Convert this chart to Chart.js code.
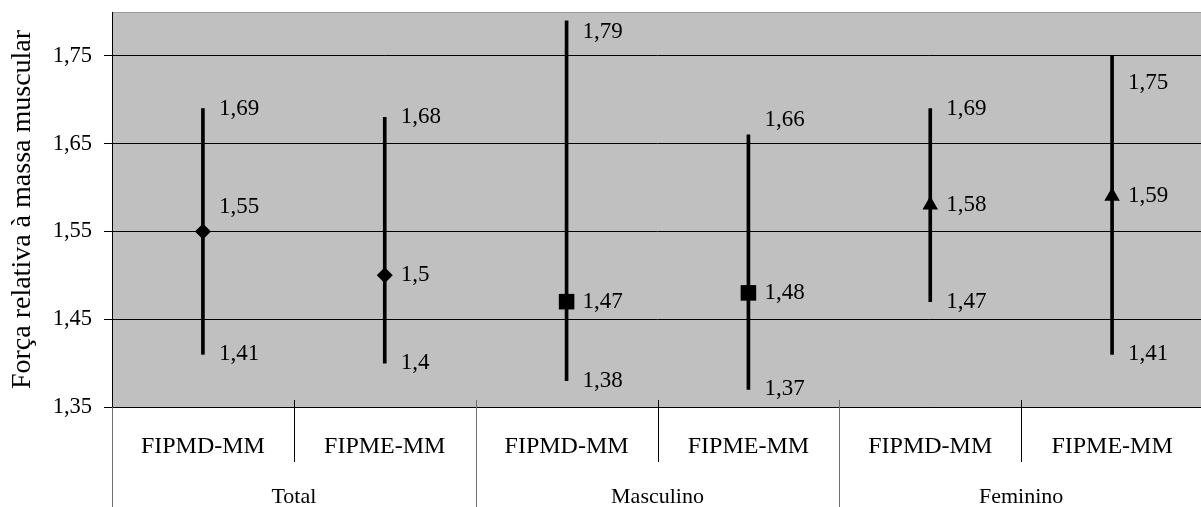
<!DOCTYPE html>
<html lang="pt">
  <head>
    <meta charset="utf-8">
    <script src="https://cdn.jsdelivr.net/npm/chart.js@4.4.1/dist/chart.umd.min.js"></script>
    <title>Força relativa</title>
    <style>
      html, body { margin: 0; padding: 0; overflow: hidden; background: #fff; }
      canvas { display: block; }
    </style>
  </head>
  <body>
    <canvas id="myChart" width="1201" height="507"></canvas>
    <script type="text/javascript">
      // data
      const categories = ['FIPMD-MM', 'FIPME-MM', 'FIPMD-MM', 'FIPME-MM', 'FIPMD-MM', 'FIPME-MM'];
      const groups = ['Total', 'Masculino', 'Feminino'];
      const means = [1.55, 1.50, 1.47, 1.48, 1.58, 1.59];
      const lows = [1.41, 1.40, 1.38, 1.37, 1.47, 1.41];
      const highs = [1.69, 1.68, 1.79, 1.66, 1.69, 1.75];
      const yTicks = [1.35, 1.45, 1.55, 1.65, 1.75];

      // marker per group (Total / Masculino / Feminino)
      const markerStyle = ['rectRot', 'rectRot', 'rect', 'rect', 'triangle', 'triangle'];
      const markerSize = { rectRot: 8, rect: 11, triangle: 9 };
      // small label shifts like in the original (px)
      const nudge = { mean: { 0: -24 }, high: { 2: 11, 3: -15, 5: 27 }, low: {} };

      const fmt = v => String(v).replace('.', ',');
      const FONT = '"Liberation Serif", "Times New Roman", serif';

      Chart.defaults.font.family = FONT;
      Chart.defaults.color = '#000';

      // the original plot is cut off on the right: let the x axis run past the edge
      const overflowRight = {
        id: 'overflowRight',
        afterLayout(chart) {
          const extra = 11;
          const x = chart.scales.x;
          chart.chartArea.right += extra;
          chart.chartArea.width += extra;
          x.right += extra;
          x.width += extra;
          x.configure();
        }
      };

      const plotBg = {
        id: 'plotBg',
        beforeDraw(chart) {
          const {ctx, chartArea: a} = chart;
          ctx.save();
          ctx.fillStyle = '#c0c0c0';
          ctx.fillRect(a.left, a.top, a.right - a.left, a.bottom - a.top);
          ctx.strokeStyle = '#9a9a9a';
          ctx.lineWidth = 1;
          ctx.beginPath();
          ctx.moveTo(a.left, a.top + 0.5);
          ctx.lineTo(a.right, a.top + 0.5);
          ctx.stroke();
          ctx.restore();
        }
      };

      const valueLabels = {
        id: 'valueLabels',
        afterDatasetsDraw(chart) {
          const {ctx, scales: {x, y}} = chart;
          ctx.save();
          ctx.font = '23px ' + FONT;
          ctx.fillStyle = '#000';
          ctx.textAlign = 'left';
          ctx.textBaseline = 'middle';
          categories.forEach((c, i) => {
            const px = x.getPixelForValue(i) + 16;
            [['high', highs], ['mean', means], ['low', lows]].forEach(([k, arr]) => {
              const dy = nudge[k][i] || 0;
              ctx.fillText(fmt(arr[i]), px, y.getPixelForValue(arr[i]) + dy);
            });
          });
          ctx.restore();
        }
      };

      const groupAxis = {
        id: 'groupAxis',
        afterDraw(chart) {
          const {ctx, scales: {x}, chartArea: a} = chart;
          const half = (x.getPixelForValue(1) - x.getPixelForValue(0)) / 2;
          const H = chart.height;
          ctx.save();
          ctx.lineWidth = 1;
          for (let i = 0; i <= categories.length; i++) {
            const bx = Math.round(i < categories.length ? x.getPixelForValue(i) - half : x.getPixelForValue(i - 1) + half) + 0.5;
            const long = i % 2 === 0;
            ctx.strokeStyle = long ? '#6e6e6e' : '#000';
            ctx.beginPath();
            ctx.moveTo(bx, long && i === 0 ? a.bottom : a.bottom - 7);
            ctx.lineTo(bx, long ? H : 462);
            ctx.stroke();
          }
          ctx.font = '22px ' + FONT;
          ctx.fillStyle = '#000';
          ctx.textAlign = 'center';
          ctx.textBaseline = 'middle';
          groups.forEach((g, j) => {
            const cx = (x.getPixelForValue(2 * j) + x.getPixelForValue(2 * j + 1)) / 2;
            ctx.fillText(g, cx, 497);
          });
          ctx.restore();
        }
      };

      const ctx = document.getElementById('myChart').getContext('2d');
      const myChart = new Chart(ctx, {
        data: {
          labels: categories,
          datasets: [
            {
              type: 'line',
              data: means,
              showLine: false,
              pointStyle: markerStyle,
              pointRadius: markerStyle.map(s => markerSize[s]),
              pointBackgroundColor: '#000',
              pointBorderColor: '#000',
              pointBorderWidth: 0,
              order: 0
            },
            {
              type: 'bar',
              data: lows.map((l, i) => [l, highs[i]]),
              backgroundColor: '#000',
              borderWidth: 0,
              barThickness: 3,
              order: 1
            }
          ]
        },
        options: {
          responsive: false,
          animation: false,
          devicePixelRatio: 1,
          layout: { padding: { top: 12, left: 0, right: 0, bottom: 0 } },
          plugins: {
            legend: { display: false },
            tooltip: { enabled: false }
          },
          scales: {
            x: {
              offset: true,
              grid: { display: false, drawTicks: false },
              border: { display: true, color: '#000' },
              ticks: { font: { size: 24 }, padding: 25, maxRotation: 0, autoSkip: false },
              afterFit(s) { s.height = 100; s.paddingLeft = 0; s.paddingRight = 0; }
            },
            y: {
              min: 1.35,
              max: 1.80,
              afterBuildTicks(s) { s.ticks = yTicks.map(v => ({ value: v })); },
              grid: { color: '#000', lineWidth: 1, tickLength: 8 },
              border: { display: true, color: '#000' },
              ticks: {
                font: { size: 22.5 },
                padding: 12,
                callback: v => v.toFixed(2).replace('.', ',')
              },
              title: {
                display: true,
                text: 'Força relativa à massa muscular',
                font: { size: 28 },
                padding: { top: 6, bottom: 0 }
              },
              afterFit(s) { s.width = 112; s.paddingTop = 0; s.paddingBottom = 0; }
            }
          }
        },
        plugins: [overflowRight, plotBg, valueLabels, groupAxis]
      });
    </script>
  </body>
</html>
